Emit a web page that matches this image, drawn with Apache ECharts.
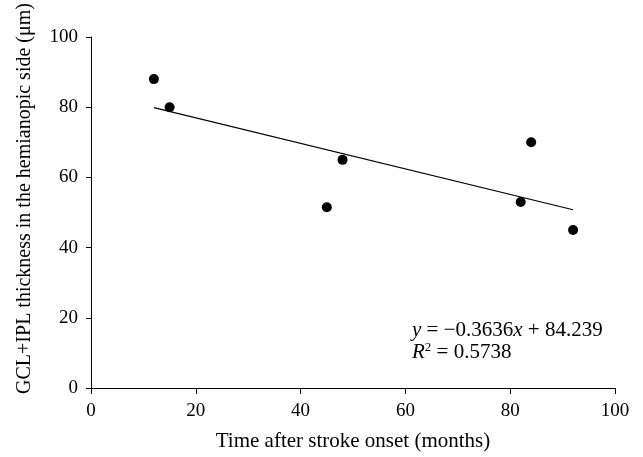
<!DOCTYPE html>
<html>
<head>
<meta charset="utf-8">
<script src="https://cdn.jsdelivr.net/npm/echarts@6/dist/echarts.min.js"></script>
<style>html,body{margin:0;padding:0;background:#fff}#c{width:643px;height:457px}</style>
</head>
<body>
<div id="c"></div>
<script>
const monthsAfterOnset = [12, 15, 45, 48, 82, 84, 92];
const gclIplThickness = [88, 80, 51.5, 65, 53, 70, 45];
const fitSlope = -0.3636;
const fitIntercept = 84.239;
const fitR2 = 0.5738;
const trendX = [12, 92];
const xTicks = [0, 20, 40, 60, 80, 100];
const yTicks = [0, 20, 40, 60, 80, 100];

const FONT = '"Liberation Serif", "DejaVu Serif", serif';
const points = monthsAfterOnset.map((x, i) => [x, gclIplThickness[i]]);
const trend = trendX.map(x => [x, fitIntercept + fitSlope * x]);

const chart = echarts.init(document.getElementById('c'), null, {renderer: 'canvas'});
chart.setOption({
  animation: false,
  backgroundColor: '#fff',
  grid: {left: 91, right: 28, top: 37, bottom: 67},
  xAxis: {
    type: 'value', min: xTicks[0], max: xTicks[xTicks.length - 1], interval: 20,
    name: 'Time after stroke onset (months)', nameLocation: 'middle', nameGap: 43,
    nameTextStyle: {fontFamily: FONT, fontSize: 21, color: '#000'},
    axisLine: {show: true, lineStyle: {color: '#000', width: 1}},
    axisTick: {show: true, length: 6, lineStyle: {color: '#000'}},
    axisLabel: {fontFamily: FONT, fontSize: 19, color: '#000', margin: 14},
    splitLine: {show: false}
  },
  yAxis: {
    type: 'value', min: yTicks[0], max: yTicks[yTicks.length - 1], interval: 20,
    name: 'GCL+IPL thickness in the hemianopic side (\u03BCm)', nameLocation: 'middle', nameGap: 56,
    nameRotate: 90,
    nameTextStyle: {fontFamily: FONT, fontSize: 20, color: '#000', padding: [0, 0, 0, 28]},
    axisLine: {show: true, lineStyle: {color: '#000', width: 1}},
    axisTick: {show: true, length: 5, lineStyle: {color: '#000'}},
    axisLabel: {fontFamily: FONT, fontSize: 19, color: '#000', margin: 13},
    splitLine: {show: false}
  },
  series: [
    {
      type: 'line', data: trend, symbol: 'none',
      lineStyle: {color: '#000', width: 1.2}, silent: true, z: 2
    },
    {
      type: 'scatter', data: points, symbol: 'circle', symbolSize: 10,
      itemStyle: {color: '#000', opacity: 1}, z: 3
    }
  ],
  graphic: [
    {
      type: 'text', left: 412, top: 320,
      style: {
        text: '{i|y} = \u22120.3636{i|x} + 84.239',
        font: '21px ' + FONT, fill: '#000',
        rich: {i: {fontFamily: FONT, fontSize: 21, fontStyle: 'italic', fill: '#000'}}
      }
    },
    {
      type: 'text', left: 412, top: 341,
      style: {
        text: '{i|R}{s|2} = ' + fitR2.toFixed(4),
        font: '21px ' + FONT, fill: '#000',
        rich: {
          i: {fontFamily: FONT, fontSize: 21, fontStyle: 'italic', fill: '#000'},
          s: {fontFamily: FONT, fontSize: 13, fill: '#000', verticalAlign: 'top', padding: [0, 0, 9, 0]}
        }
      }
    }
  ]
});
</script>
</body>
</html>
